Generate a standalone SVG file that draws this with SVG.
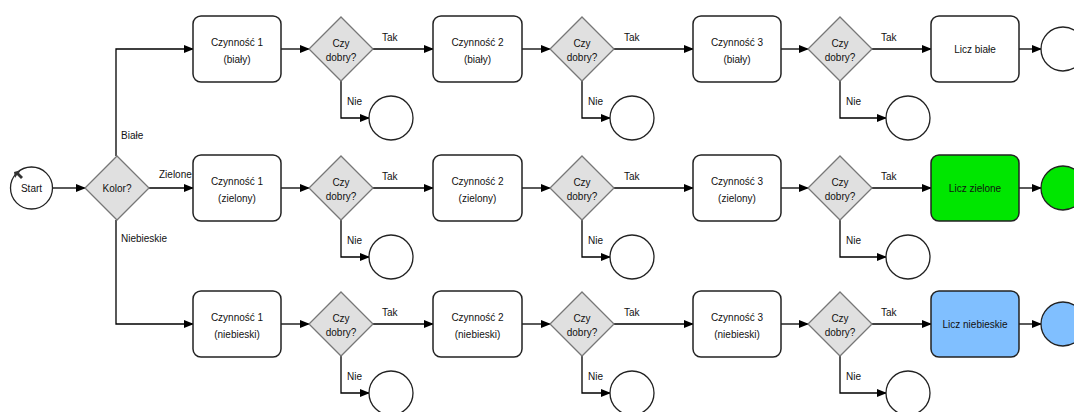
<svg xmlns="http://www.w3.org/2000/svg" width="1074" height="412" viewBox="0 0 1074 412">
<defs>
<marker id="ah" markerWidth="10" markerHeight="8" refX="9" refY="4" orient="auto" markerUnits="userSpaceOnUse">
<path d="M0,0 L10,4 L0,8 Z" fill="#000"/>
</marker>
<style>
.box{fill:#fff;stroke:#222;stroke-width:1.5}
.dia{fill:#e0e0e0;stroke:#777;stroke-width:1.3}
.ev{fill:#fff;stroke:#222;stroke-width:1.3}
.ln{fill:none;stroke:#000;stroke-width:1.3;marker-end:url(#ah)}
text{font-family:"Liberation Sans",Arial,sans-serif;font-size:10px;fill:#111}
.c{text-anchor:middle}
</style>
</defs>
<rect width="1074" height="412" fill="#fff"/>
<g id="connectors">
<path class="ln" d="M53,188 H85"/>
<path class="ln" d="M116,156 V49 H193"/>
<path class="ln" d="M149,188 H193"/>
<path class="ln" d="M116,220 V324 H193"/>
<!-- row 1 -->
<path class="ln" d="M281,49 H309"/>
<path class="ln" d="M373,49 H433"/>
<path class="ln" d="M341,81 V118 H369"/>
<path class="ln" d="M522,49 H550"/>
<path class="ln" d="M614,49 H693"/>
<path class="ln" d="M582,81 V118 H610"/>
<path class="ln" d="M781,49 H808"/>
<path class="ln" d="M872,49 H931"/>
<path class="ln" d="M840,81 V118 H886"/>
<path class="ln" d="M1019,49 H1041"/>
<!-- row 2 -->
<path class="ln" d="M281,188 H309"/>
<path class="ln" d="M373,188 H433"/>
<path class="ln" d="M341,220 V257 H369"/>
<path class="ln" d="M522,188 H550"/>
<path class="ln" d="M614,188 H693"/>
<path class="ln" d="M582,220 V257 H610"/>
<path class="ln" d="M781,188 H808"/>
<path class="ln" d="M872,188 H931"/>
<path class="ln" d="M840,220 V257 H886"/>
<path class="ln" d="M1019,188 H1041"/>
<!-- row 3 -->
<path class="ln" d="M281,324 H309"/>
<path class="ln" d="M373,324 H433"/>
<path class="ln" d="M341,356 V393 H369"/>
<path class="ln" d="M522,324 H550"/>
<path class="ln" d="M614,324 H693"/>
<path class="ln" d="M582,356 V393 H610"/>
<path class="ln" d="M781,324 H808"/>
<path class="ln" d="M872,324 H931"/>
<path class="ln" d="M840,356 V393 H886"/>
<path class="ln" d="M1019,324 H1041"/>
<!-- labels -->
<text x="121" y="139">Białe</text>
<text x="159" y="178">Zielone</text>
<text x="121" y="242">Niebieskie</text>
<text x="382" y="41">Tak</text><text x="347" y="105">Nie</text>
<text x="624" y="41">Tak</text><text x="588" y="105">Nie</text>
<text x="881" y="41">Tak</text><text x="846" y="105">Nie</text>
<text x="382" y="180">Tak</text><text x="347" y="244">Nie</text>
<text x="624" y="180">Tak</text><text x="588" y="244">Nie</text>
<text x="881" y="180">Tak</text><text x="846" y="244">Nie</text>
<text x="382" y="316">Tak</text><text x="347" y="380">Nie</text>
<text x="624" y="316">Tak</text><text x="588" y="380">Nie</text>
<text x="881" y="316">Tak</text><text x="846" y="380">Nie</text>
</g>
<g id="start">
<circle class="ev" cx="31.5" cy="188" r="21"/>
<path d="M14,172 L21,170 L19,173 L23,177 L21,179 L17,175 L15,178 Z" fill="#333"/>
<text class="c" x="31.5" y="191.5">Start</text>
</g>
<g id="kolor">
<polygon class="dia" points="117,156 149,188 117,220 85,188"/>
<text class="c" x="117" y="191.5">Kolor?</text>
</g>
<!-- row 1 -->
<g id="a1b"><rect class="box" x="193" y="16" width="88" height="66" rx="8"/><text class="c" x="237" y="45.5">Czynność 1</text><text class="c" x="237" y="62.5">(biały)</text></g>
<g id="d1b"><polygon class="dia" points="341,17 373,49 341,81 309,49"/><text class="c" x="341" y="46.5">Czy</text><text class="c" x="341" y="60.5">dobry?</text></g>
<g id="e1b"><circle class="ev" cx="391" cy="118" r="22"/></g>
<g id="a2b"><rect class="box" x="433" y="16" width="89" height="66" rx="8"/><text class="c" x="477.5" y="45.5">Czynność 2</text><text class="c" x="477.5" y="62.5">(biały)</text></g>
<g id="d2b"><polygon class="dia" points="582,17 614,49 582,81 550,49"/><text class="c" x="582" y="46.5">Czy</text><text class="c" x="582" y="60.5">dobry?</text></g>
<g id="e2b"><circle class="ev" cx="632" cy="118" r="22"/></g>
<g id="a3b"><rect class="box" x="693" y="16" width="88" height="66" rx="8"/><text class="c" x="737" y="45.5">Czynność 3</text><text class="c" x="737" y="62.5">(biały)</text></g>
<g id="d3b"><polygon class="dia" points="840,17 872,49 840,81 808,49"/><text class="c" x="840" y="46.5">Czy</text><text class="c" x="840" y="60.5">dobry?</text></g>
<g id="e3b"><circle class="ev" cx="908" cy="118" r="22"/></g>
<g id="lb"><rect class="box" x="931" y="16" width="88" height="66" rx="8"/><text class="c" x="975" y="52.5">Licz białe</text></g>
<g id="endb"><circle class="ev" cx="1063" cy="49" r="22"/></g>
<!-- row 2 -->
<g id="a1z"><rect class="box" x="193" y="155" width="88" height="66" rx="8"/><text class="c" x="237" y="184.5">Czynność 1</text><text class="c" x="237" y="201.5">(zielony)</text></g>
<g id="d1z"><polygon class="dia" points="341,156 373,188 341,220 309,188"/><text class="c" x="341" y="185.5">Czy</text><text class="c" x="341" y="199.5">dobry?</text></g>
<g id="e1z"><circle class="ev" cx="391" cy="257" r="22"/></g>
<g id="a2z"><rect class="box" x="433" y="155" width="89" height="66" rx="8"/><text class="c" x="477.5" y="184.5">Czynność 2</text><text class="c" x="477.5" y="201.5">(zielony)</text></g>
<g id="d2z"><polygon class="dia" points="582,156 614,188 582,220 550,188"/><text class="c" x="582" y="185.5">Czy</text><text class="c" x="582" y="199.5">dobry?</text></g>
<g id="e2z"><circle class="ev" cx="632" cy="257" r="22"/></g>
<g id="a3z"><rect class="box" x="693" y="155" width="88" height="66" rx="8"/><text class="c" x="737" y="184.5">Czynność 3</text><text class="c" x="737" y="201.5">(zielony)</text></g>
<g id="d3z"><polygon class="dia" points="840,156 872,188 840,220 808,188"/><text class="c" x="840" y="185.5">Czy</text><text class="c" x="840" y="199.5">dobry?</text></g>
<g id="e3z"><circle class="ev" cx="908" cy="257" r="22"/></g>
<g id="lz"><rect class="box" x="931" y="155" width="88" height="66" rx="8" style="fill:#00e600"/><text class="c" x="975" y="191.5">Licz zielone</text></g>
<g id="endz"><circle class="ev" cx="1063" cy="188" r="22" style="fill:#00e600"/></g>
<!-- row 3 -->
<g id="a1n"><rect class="box" x="193" y="291" width="88" height="66" rx="8"/><text class="c" x="237" y="320.5">Czynność 1</text><text class="c" x="237" y="337.5">(niebieski)</text></g>
<g id="d1n"><polygon class="dia" points="341,292 373,324 341,356 309,324"/><text class="c" x="341" y="321.5">Czy</text><text class="c" x="341" y="335.5">dobry?</text></g>
<g id="e1n"><circle class="ev" cx="391" cy="393" r="22"/></g>
<g id="a2n"><rect class="box" x="433" y="291" width="89" height="66" rx="8"/><text class="c" x="477.5" y="320.5">Czynność 2</text><text class="c" x="477.5" y="337.5">(niebieski)</text></g>
<g id="d2n"><polygon class="dia" points="582,292 614,324 582,356 550,324"/><text class="c" x="582" y="321.5">Czy</text><text class="c" x="582" y="335.5">dobry?</text></g>
<g id="e2n"><circle class="ev" cx="632" cy="393" r="22"/></g>
<g id="a3n"><rect class="box" x="693" y="291" width="88" height="66" rx="8"/><text class="c" x="737" y="320.5">Czynność 3</text><text class="c" x="737" y="337.5">(niebieski)</text></g>
<g id="d3n"><polygon class="dia" points="840,292 872,324 840,356 808,324"/><text class="c" x="840" y="321.5">Czy</text><text class="c" x="840" y="335.5">dobry?</text></g>
<g id="e3n"><circle class="ev" cx="908" cy="393" r="22"/></g>
<g id="ln3"><rect class="box" x="931" y="291" width="88" height="66" rx="8" style="fill:#80bfff"/><text class="c" x="975" y="327.5">Licz niebieskie</text></g>
<g id="endn"><circle class="ev" cx="1063" cy="324" r="22" style="fill:#80bfff"/></g>
</svg>
